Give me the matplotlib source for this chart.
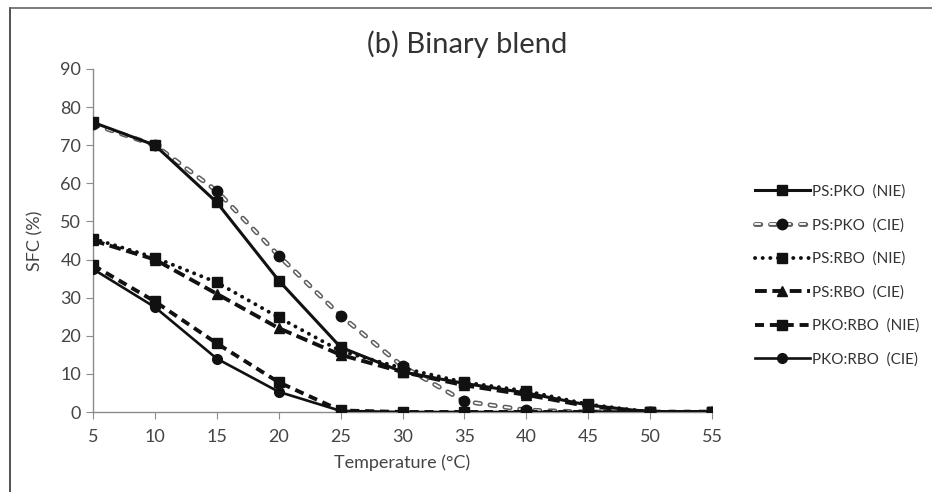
import matplotlib
matplotlib.use("Agg")
import matplotlib.pyplot as plt
from matplotlib.lines import Line2D
from matplotlib.legend_handler import HandlerTuple

plt.rcParams['font.family'] = ['Lato', 'DejaVu Sans']
plt.rcParams['lines.scale_dashes'] = False

# --- data ---
temps = [5, 10, 15, 20, 25, 30, 35, 40, 45, 50, 55]
ps_pko_nie = [76, 70, 55, 34.5, 17, 10.5, 7.5, 5, 1.8, 0, 0]
ps_pko_cie = [75.5, 70, 58, 41, 25.3, 12, 2.8, 0.5, 0, 0, 0]
ps_rbo_nie = [45.5, 40.5, 34, 24.8, 16, 11.5, 7.8, 5.5, 2, 0, 0]
ps_rbo_cie = [45, 40, 31, 22, 15, 10.5, 7, 4.5, 1.5, 0, 0]
pko_rbo_nie = [38.5, 29, 18, 7.8, 0.4, 0, 0, 0, 0, 0, 0]
pko_rbo_cie = [37.5, 27.5, 14, 5.3, 0.3, 0, 0, 0, 0, 0, 0]
labels = ['PS:PKO  (NIE)', 'PS:PKO  (CIE)', 'PS:RBO  (NIE)',
          'PS:RBO  (CIE)', 'PKO:RBO  (NIE)', 'PKO:RBO  (CIE)']

fig = plt.figure(figsize=(9.32, 4.92), dpi=100)
ax = fig.add_axes([0.0998, 0.1626, 0.6642, 0.6972])

k = '#111111'
# round caps: pattern dash + linewidth = visible capsule length
gray_dash = (0, (3.8, 7.0))

# PS:PKO (NIE) - solid, squares
l1, = ax.plot(temps, ps_pko_nie, color=k, lw=2.2, marker='s', ms=7.5, zorder=5)
# PS:PKO (CIE) - hollow gray dashes, circles
g_out, = ax.plot(temps, ps_pko_cie, color='#5e5e5e', lw=3.5, ls=gray_dash,
                 dash_capstyle='round', zorder=3)
g_in, = ax.plot(temps, ps_pko_cie, color='white', lw=1.3, ls=gray_dash,
                dash_capstyle='round', zorder=3.1)
g_mk, = ax.plot(temps, ps_pko_cie, ls='none', color=k, marker='o', ms=7.5, zorder=4)
# PS:RBO (NIE) - round dots, squares
l3, = ax.plot(temps, ps_rbo_nie, color=k, lw=2.8, ls=(0, (0.1, 5.4)),
              dash_capstyle='round', marker='s', ms=7.5, zorder=4)
# PS:RBO (CIE) - long dashes, triangles
l4, = ax.plot(temps, ps_rbo_cie, color=k, lw=2.8, ls=(0, (8.5, 4)),
              marker='^', ms=7.5, zorder=4)
# PKO:RBO (NIE) - dashes, squares
l5, = ax.plot(temps, pko_rbo_nie, color=k, lw=2.8, ls=(0, (6.5, 4.2)),
              marker='s', ms=7.5, zorder=4)
# PKO:RBO (CIE) - solid, circles
l6, = ax.plot(temps, pko_rbo_cie, color=k, lw=1.9, marker='o', ms=7, zorder=4)

ax.set_xlim(5, 55)
ax.set_ylim(0, 90)
ax.set_xticks(temps)
ax.set_yticks(range(0, 91, 10))
ax.spines['top'].set_visible(False)
ax.spines['right'].set_visible(False)
for s in ['left', 'bottom']:
    ax.spines[s].set_color('#8c8c8c')
    ax.spines[s].set_linewidth(1)
ax.tick_params(axis='both', colors='#8c8c8c', labelcolor='#444444',
               labelsize=13, length=5, direction='out')
ax.tick_params(axis='x', pad=7)
ax.set_xlabel('Temperature (°C)', fontsize=13, color='#444444', labelpad=7)
ax.set_ylabel('SFC (%)', fontsize=13, color='#444444', labelpad=12)

fig.text(0.501, 0.91, '(b) Binary blend', ha='center', va='center',
         fontsize=21, color='#333333')

handles = [l1, (g_out, g_in, g_mk), l3, l4, l5, l6]
leg = fig.legend(handles, labels, loc='center left', bbox_to_anchor=(0.795, 0.44),
                 frameon=False, fontsize=11, labelcolor='#333333',
                 handlelength=3.6, handletextpad=0.12, labelspacing=1.26,
                 handler_map={tuple: HandlerTuple(ndivide=1)})

# outer frame (left and top edges visible)
fig.add_artist(Line2D([0.011, 0.011], [0, 0.983], color='#333333', lw=1.2))
fig.add_artist(Line2D([0.011, 1], [0.983, 0.983], color='#666666', lw=1.2))

fig.savefig('out.png', dpi=100)
